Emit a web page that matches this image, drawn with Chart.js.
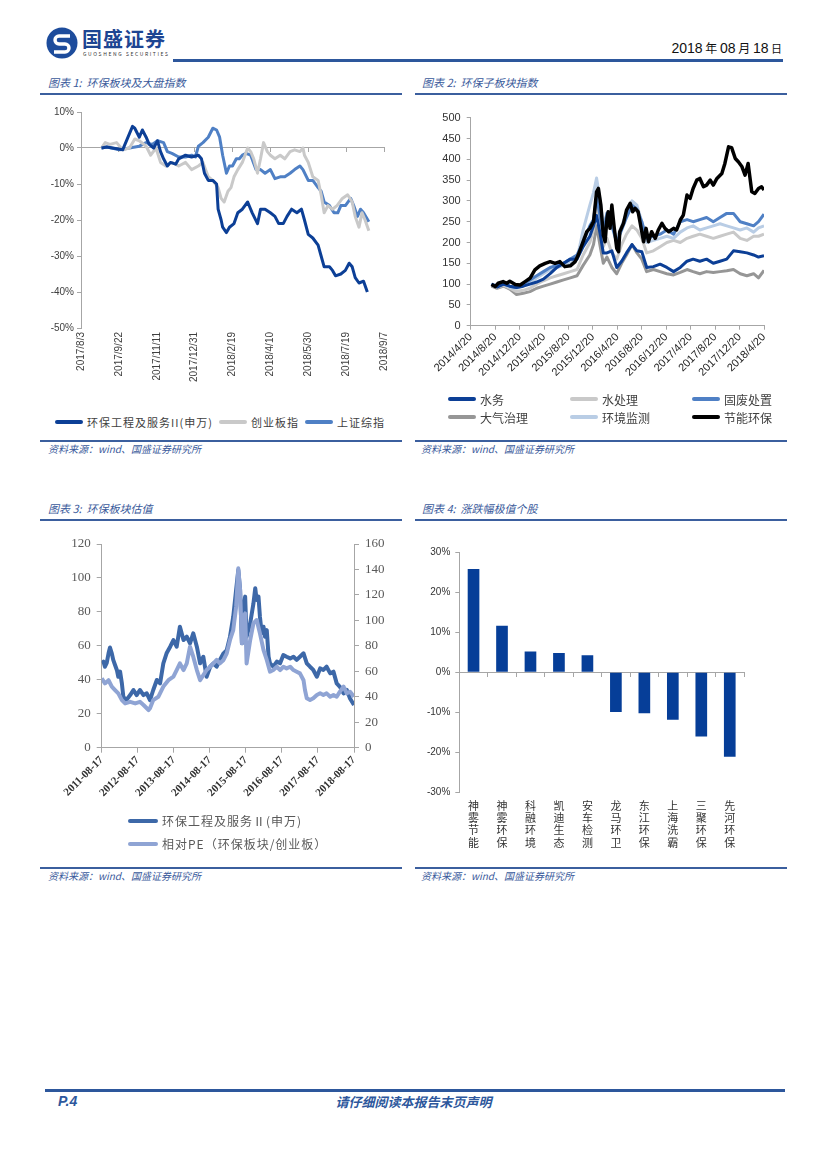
<!DOCTYPE html>
<html lang="zh">
<head>
<meta charset="UTF-8">
<title>环保板块</title>
<script src="https://cdn.jsdelivr.net/npm/chart.js@4"></script>
<style>
  body { margin: 0; background: #fff; }
  #page { position: relative; width: 827px; height: 1169px; overflow: hidden; font-family: "Noto Sans CJK SC", sans-serif; }
  .abs { position: absolute; }
  .title { font-size: 11px; line-height: 16px; font-style: italic; color: #3a5a9b; white-space: nowrap; }
  .rule { position: absolute; height: 2px; background: #3b5f9e; }
  .src { font-size: 10px; line-height: 16px; font-style: italic; color: #3a5a9b; white-space: nowrap; }
  .legend .item { display: flex; align-items: center; color: #404040; white-space: nowrap; }
  .legend .swatch { display: inline-block; height: 4px; border-radius: 2px; margin-right: 4px; }
  #leg1 { left: 40px; top: 414px; width: 360px; display: flex; justify-content: center; gap: 6px; font-size: 11px; letter-spacing: 1px; }
  #leg2 { left: 413px; top: 390px; padding-left: 35px; display: grid; grid-template-columns: 122px 122px 100px; grid-auto-rows: 18px; font-size: 12px; }
  #leg3 { left: 128px; top: 809px; font-size: 12px; letter-spacing: 1px; }
  #leg3 .item { height: 23px; color: #595959; }
</style>
</head>
<body>
<div id="page">
  <svg class="abs" style="left:46px;top:27px" width="32" height="32" viewBox="0 0 32 32">
    <circle cx="16" cy="16" r="15.5" fill="#1d4c9c"/>
    <path d="M24 9 H13 a4 4 0 0 0 0 8 H19 a4 4 0 0 1 0 8 H8" stroke="#fff" stroke-width="3.4" fill="none"/>
  </svg>
  <div class="abs" style="left:82px;top:27px;font-size:20px;font-weight:700;color:#1d4592;letter-spacing:1px;line-height:24px">国盛证券</div>
  <div class="abs" style="left:83px;top:51px;font-size:5px;color:#333;letter-spacing:1.6px;line-height:6px">GUOSHENG SECURITIES</div>
  <div class="abs" style="right:45px;top:39px;font-size:14px;line-height:18px;color:#111;font-family:'Liberation Sans','Noto Sans CJK SC'">2018<span style="font-family:'Noto Sans CJK SC';font-size:12px"> 年 </span>08<span style="font-family:'Noto Sans CJK SC';font-size:12px"> 月 </span>18<span style="font-family:'Noto Sans CJK SC';font-size:11px"> 日</span></div>
  <div class="rule" style="left:173px;top:59px;width:610px;height:3px;background:#2d579c"></div>

  <div class="abs title" style="left:48px;top:74px">图表 1:&nbsp; 环保板块及大盘指数</div>
  <div class="rule" style="left:40px;top:93px;width:362px"></div>
  <div class="abs title" style="left:422px;top:74px">图表 2:&nbsp; 环保子板块指数</div>
  <div class="rule" style="left:415px;top:93px;width:372px"></div>

  <div class="abs" style="left:40px;top:100px;width:360px;height:300px"><canvas id="c1"></canvas></div>
  <div class="abs legend" id="leg1"></div>
  <div class="abs" style="left:413px;top:105px;width:374px;height:290px"><canvas id="c2"></canvas></div>
  <div class="abs legend" id="leg2"></div>

  <div class="rule" style="left:40px;top:440px;width:362px"></div>
  <div class="abs src" style="left:48px;top:441px">资料来源：wind、国盛证券研究所</div>
  <div class="rule" style="left:415px;top:440px;width:372px"></div>
  <div class="abs src" style="left:421px;top:441px">资料来源：wind、国盛证券研究所</div>

  <div class="abs title" style="left:48px;top:500px">图表 3:&nbsp; 环保板块估值</div>
  <div class="rule" style="left:40px;top:519px;width:362px"></div>
  <div class="abs title" style="left:422px;top:500px">图表 4:&nbsp; 涨跌幅极值个股</div>
  <div class="rule" style="left:415px;top:519px;width:372px"></div>

  <div class="abs" style="left:40px;top:530px;width:365px;height:280px"><canvas id="c3"></canvas></div>
  <div class="abs legend" id="leg3"></div>
  <div class="abs" style="left:413px;top:535px;width:374px;height:320px"><canvas id="c4"></canvas></div>

  <div class="rule" style="left:40px;top:867px;width:362px"></div>
  <div class="abs src" style="left:48px;top:868px">资料来源：wind、国盛证券研究所</div>
  <div class="rule" style="left:415px;top:867px;width:372px"></div>
  <div class="abs src" style="left:421px;top:868px">资料来源：wind、国盛证券研究所</div>

  <div class="rule" style="left:45px;top:1089px;width:740px;height:3px;background:#2d579c"></div>
  <div class="abs" style="left:58px;top:1093px;font:italic 700 14px 'Liberation Sans';color:#2d579c">P.4</div>
  <div class="abs" style="left:0;width:827px;top:1092px;text-align:center;font-size:13px;font-weight:700;font-style:italic;color:#2d579c">请仔细阅读本报告末页声明</div>
</div>

<script>
// ---------- 图表1：环保板块及大盘指数（横轴：距 2017/8/3 的天数，纵轴：涨跌幅 %） ----------
const c1Ticks = ['2017/8/3', '2017/9/22', '2017/11/11', '2017/12/31', '2018/2/19', '2018/4/10', '2018/5/30', '2018/7/19', '2018/9/7'];
const envDays = [27, 34, 55, 68, 71, 77, 81, 86, 90, 96, 101, 105, 109, 114, 118, 125, 129, 138, 146, 155, 159, 163, 168, 174, 179, 181, 185, 187, 192, 196, 202, 207, 213, 220, 226, 233, 237, 243, 250, 256, 261, 267, 272, 278, 285, 291, 295, 300, 306, 313, 317, 321, 328, 332, 336, 343, 349, 354, 358, 362, 367, 373, 378];
const envVals = [0, 0.3, -0.5, 6, 5.5, 3, 5, 3, 1, 0, 2, -1, -3, -5, -4, -4.5, -3, -2, -2.5, -2, -3, -7, -9, -9, -10, -17, -20, -22, -23.5, -22, -21, -18, -17, -15, -18, -21, -17, -17, -18, -19, -21, -21, -19, -17, -18, -17, -20, -24, -25, -27, -30, -33, -33, -34, -35.5, -35, -34, -32, -33, -36, -37.5, -37, -40];
const cybDays = [27, 32, 38, 47, 55, 64, 71, 77, 86, 92, 99, 105, 112, 120, 129, 138, 146, 155, 161, 168, 174, 181, 185, 189, 194, 198, 202, 207, 213, 220, 224, 228, 233, 237, 241, 246, 250, 256, 263, 269, 276, 282, 289, 293, 295, 300, 306, 313, 317, 321, 326, 332, 338, 345, 352, 358, 362, 367, 371, 375, 380];
const cybVals = [0, 1.5, 1, 1.5, -0.5, 0, 2.5, 2, 0.5, -2, 0, -4, -5, -4, -5, -4, -6, -5, -4, -8, -9, -11, -14, -15, -12, -11, -8, -6, -4, 0, -1, -3, -7, -3, 1.5, -1, -2, -3, -2, -3, -1, -0.5, -1, 0, -2, -4, -8, -9, -13, -18, -16, -17, -16, -14, -13, -15, -19, -22, -18, -20, -23];
const shDays = [27, 34, 51, 64, 77, 86, 94, 101, 109, 114, 120, 129, 138, 146, 151, 155, 161, 168, 174, 179, 183, 187, 192, 196, 200, 205, 209, 213, 218, 224, 231, 237, 243, 250, 256, 263, 269, 276, 282, 289, 293, 300, 306, 313, 317, 321, 328, 334, 339, 343, 349, 356, 360, 365, 369, 373, 380];
const shVals = [0, 0.3, -0.5, 0, 0.5, 1.5, 1, 2, 1.5, -1, -1.5, -2.5, -2.5, -2, -2.5, 0.5, 1.5, 3, 5.5, 5, 3, -2, -7, -5, -5, -3, -3, -2, -1.5, -2, -6, -6, -7, -6, -8.5, -8, -8, -7, -6, -5, -6, -9, -9, -11, -12, -15, -16, -18, -18, -16, -16, -14, -16, -19, -17, -18, -20.5];

// ---------- 图表2：环保子板块指数（横轴：距 2014/4/20 的月数） ----------
const c2Ticks = ['2014/4/20', '2014/8/20', '2014/12/20', '2015/4/20', '2015/8/20', '2015/12/20', '2016/4/20', '2016/8/20', '2016/12/20', '2017/4/20', '2017/8/20', '2017/12/20', '2018/4/20'];
const subMonths = [3.4, 4.3, 5.4, 6.4, 7.5, 8.6, 9.7, 10.8, 11.9, 13.0, 14.1, 15.2, 16.3, 17.4, 18.4, 19.5, 20.1, 20.6, 21.2, 21.7, 22.3, 23.1, 23.9, 24.7, 25.5, 26.4, 27.2, 28.0, 28.8, 29.9, 31.0, 32.1, 33.2, 34.3, 35.4, 36.4, 37.5, 38.6, 39.7, 40.8, 41.9, 43.0, 44.1, 45.2, 46.3, 47.1, 48.0];
const waterVals = [100, 93, 100, 95, 92, 95, 100, 105, 112, 125, 140, 150, 160, 160, 190, 215, 240, 265, 220, 175, 175, 180, 140, 155, 175, 195, 180, 178, 140, 142, 148, 140, 130, 140, 155, 160, 155, 160, 150, 155, 160, 180, 178, 175, 170, 165, 168];
const treatVals = [97, 92, 97, 90, 82, 85, 90, 100, 108, 115, 120, 125, 130, 135, 170, 200, 230, 290, 240, 190, 210, 175, 160, 195, 220, 240, 230, 210, 175, 180, 190, 200, 205, 200, 210, 215, 220, 215, 210, 215, 220, 225, 210, 205, 215, 215, 220];
const wasteVals = [100, 95, 100, 95, 92, 100, 110, 120, 130, 140, 145, 150, 160, 170, 200, 240, 255, 310, 260, 220, 270, 240, 200, 230, 260, 290, 280, 250, 210, 215, 220, 230, 220, 250, 255, 250, 255, 260, 250, 260, 270, 270, 250, 245, 240, 250, 268];
const airVals = [95, 90, 95, 88, 75, 78, 82, 90, 95, 100, 105, 110, 115, 120, 145, 170, 195, 240, 190, 150, 165, 140, 125, 150, 170, 195, 175, 160, 130, 135, 130, 125, 122, 128, 135, 130, 125, 130, 128, 130, 132, 135, 125, 120, 125, 115, 133];
const monitorVals = [100, 95, 100, 92, 90, 95, 105, 115, 125, 135, 140, 145, 150, 160, 230, 290, 320, 355, 300, 240, 270, 240, 210, 240, 270, 300, 290, 250, 200, 205, 210, 215, 210, 225, 235, 240, 230, 235, 240, 245, 240, 235, 230, 235, 225, 235, 240];
const saveMonths = [3.4, 4.0, 4.5, 5.3, 5.9, 6.4, 7.3, 8.1, 8.9, 9.7, 10.5, 11.3, 12.2, 13.0, 13.8, 14.6, 15.4, 16.3, 17.1, 17.6, 18.4, 19.0, 19.5, 20.1, 20.6, 20.9, 21.3, 21.7, 22.0, 22.3, 22.5, 22.8, 23.1, 23.5, 23.9, 24.2, 24.4, 25.0, 25.5, 26.1, 26.5, 26.9, 27.4, 27.9, 28.3, 28.7, 29.1, 29.6, 30.2, 30.7, 31.3, 31.8, 32.4, 33.2, 33.7, 34.3, 34.8, 35.4, 35.9, 36.4, 37.0, 37.5, 38.1, 38.6, 39.2, 39.7, 40.3, 41.1, 41.6, 42.2, 42.7, 43.3, 43.8, 44.4, 44.9, 45.4, 46.0, 46.5, 47.1, 47.6, 48.0];
const saveVals = [99, 94, 102, 106, 102, 107, 99, 98, 106, 114, 134, 144, 150, 154, 150, 154, 142, 144, 154, 170, 202, 226, 234, 250, 322, 330, 290, 218, 202, 258, 274, 234, 290, 234, 186, 178, 226, 246, 278, 294, 274, 282, 274, 234, 202, 234, 202, 226, 210, 230, 246, 234, 226, 234, 230, 254, 266, 314, 306, 330, 350, 354, 334, 338, 350, 338, 354, 366, 390, 430, 428, 402, 394, 382, 362, 390, 322, 318, 330, 334, 326];

// ---------- 图表3：环保板块估值（横轴：距 2011-08-17 的年数） ----------
const c3Ticks = ['2011-08-17', '2012-08-17', '2013-08-17', '2014-08-17', '2015-08-17', '2016-08-17', '2017-08-17', '2018-08-17'];
const peYears = [0.00, 0.05, 0.09, 0.14, 0.19, 0.23, 0.28, 0.32, 0.37, 0.42, 0.46, 0.51, 0.56, 0.60, 0.68, 0.79, 0.88, 0.97, 1.06, 1.16, 1.25, 1.34, 1.43, 1.53, 1.62, 1.71, 1.80, 1.90, 1.99, 2.08, 2.17, 2.27, 2.36, 2.45, 2.54, 2.64, 2.73, 2.82, 2.91, 3.01, 3.10, 3.19, 3.28, 3.38, 3.47, 3.56, 3.65, 3.73, 3.79, 3.84, 3.89, 3.93, 3.98, 4.02, 4.12, 4.21, 4.26, 4.30, 4.35, 4.39, 4.44, 4.49, 4.53, 4.58, 4.63, 4.67, 4.76, 4.86, 4.95, 5.04, 5.13, 5.23, 5.32, 5.41, 5.50, 5.60, 5.69, 5.78, 5.87, 5.97, 6.06, 6.15, 6.24, 6.34, 6.43, 6.52, 6.61, 6.71, 6.80, 6.89, 7.00];
const peVals = [49.7, 50.7, 47.7, 50, 55.6, 59, 55.6, 51.7, 48.7, 45.8, 41.8, 44.8, 37.9, 30, 28, 31, 34, 31, 34, 31, 32, 28, 34, 39.9, 37.9, 49.7, 55.6, 59.5, 63.4, 59.5, 71.3, 63.4, 65.4, 61.5, 67.4, 59.5, 49.7, 53.6, 41.8, 47.7, 49.7, 47.7, 51.7, 55.6, 57.5, 65.4, 77.2, 93, 104.7, 93, 61.5, 83, 89, 65.4, 73.3, 85, 93.9, 87, 89, 77.2, 67.4, 71.3, 65.4, 69.3, 53.6, 49.7, 47.7, 50.7, 49.7, 54.6, 53.6, 52.6, 53.6, 51.7, 53.6, 55.6, 49.7, 47.7, 45.8, 41.8, 46.7, 45.8, 47.7, 43.8, 44.8, 37.9, 35.9, 32, 34, 29, 25.1];
const relYears = [0.00, 0.09, 0.19, 0.28, 0.37, 0.46, 0.56, 0.65, 0.79, 0.93, 1.06, 1.16, 1.30, 1.34, 1.43, 1.57, 1.71, 1.85, 1.99, 2.08, 2.17, 2.27, 2.36, 2.45, 2.54, 2.64, 2.73, 2.82, 2.91, 3.01, 3.10, 3.19, 3.28, 3.38, 3.47, 3.56, 3.65, 3.73, 3.79, 3.84, 3.89, 3.93, 3.98, 4.02, 4.12, 4.21, 4.30, 4.39, 4.49, 4.58, 4.67, 4.76, 4.86, 4.95, 5.04, 5.13, 5.23, 5.32, 5.41, 5.50, 5.60, 5.64, 5.69, 5.78, 5.87, 5.97, 6.06, 6.15, 6.24, 6.34, 6.43, 6.52, 6.61, 6.71, 6.80, 6.89, 7.00];
const relVals = [54.5, 50.5, 53, 48, 45.3, 42.7, 37.4, 34.8, 36, 34.8, 36, 33.5, 29.6, 31, 37.4, 40, 48, 53, 55.8, 61, 66.2, 61, 66.2, 79.3, 71.5, 61, 53, 57, 61, 63.6, 66.2, 68.9, 66.2, 68.9, 74.1, 84.6, 92.4, 110.8, 140.9, 123.9, 82, 103, 105.5, 66.2, 84.6, 97.7, 100.3, 89.8, 76.7, 68.9, 59.7, 61, 63.6, 61, 63.6, 62.3, 63.6, 61, 59.7, 58.4, 53, 45.3, 38.8, 37.4, 38.8, 41.4, 42.7, 41.4, 42.7, 40, 41.4, 40, 44, 48, 42.7, 44, 40];

// ---------- 图表4：涨跌幅极值个股（%） ----------
const stockNames = ['神雾节能', '神雾环保', '科融环境', '凯迪生态', '安车检测', '龙马环卫', '东江环保', '上海洗霸', '三聚环保', '先河环保'];
const stockChg = [25.8, 11.6, 5.2, 4.8, 4.2, -10.0, -10.3, -11.9, -16.1, -21.2];

Chart.defaults.font.family = "'Liberation Sans', 'Noto Sans CJK SC', sans-serif";
Chart.defaults.animation = false;
Chart.defaults.plugins.legend.display = false;
Chart.defaults.plugins.tooltip.enabled = false;

const AXIS = '#a6a6a6';
const pts = (xs, ys) => xs.map((x, i) => ({ x: x, y: ys[i] }));

function line(label, data, color, width, extra) {
  return Object.assign({
    label: label, data: data, borderColor: color, backgroundColor: color,
    borderWidth: width, pointRadius: 0, tension: 0, borderJoinStyle: 'round'
  }, extra || {});
}

// legend drawn as html, built from the chart's datasets
const htmlLegend = {
  id: 'htmlLegend',
  afterUpdate(chart, args, opts) {
    const box = document.getElementById(opts.containerID);
    if (!box) return;
    box.innerHTML = '';
    chart.data.datasets.forEach(ds => {
      const item = document.createElement('div');
      item.className = 'item';
      const sw = document.createElement('span');
      sw.className = 'swatch';
      sw.style.background = ds.borderColor;
      sw.style.width = opts.swatch + 'px';
      const tx = document.createElement('span');
      tx.textContent = ds.label;
      item.append(sw, tx);
      box.appendChild(item);
    });
  }
};

// ---- chart 1 ----
new Chart(document.getElementById('c1'), {
  type: 'line',
  data: {
    datasets: [
      line('环保工程及服务II(申万)', pts(envDays, envVals), '#0c3f96', 3),
      line('创业板指', pts(cybDays, cybVals), '#c9c9c9', 3),
      line('上证综指', pts(shDays, shVals), '#4f80c5', 3)
    ]
  },
  options: {
    responsive: true, maintainAspectRatio: false,
    layout: { padding: { top: 12, right: 11, left: 0, bottom: 0 } },
    plugins: { htmlLegend: { containerID: 'leg1', swatch: 28 } },
    scales: {
      x: {
        type: 'linear', min: 0, max: 400,
        ticks: { stepSize: 50, autoSkip: false, maxRotation: 90, minRotation: 90, padding: 4,
          color: '#404040', font: { size: 10 }, callback: (v, i) => c1Ticks[i] },
        grid: { display: false, drawTicks: false }, border: { display: false },
        afterFit: s => { s.height = 72; }
      },
      xZero: {
        axis: 'x', type: 'linear', position: { y: 0 }, min: 0, max: 400,
        ticks: { stepSize: 50, display: false },
        grid: { drawOnChartArea: false, tickLength: 4, color: AXIS },
        border: { color: AXIS }
      },
      y: {
        min: -50, max: 10,
        ticks: { stepSize: 10, padding: 3, color: '#404040', font: { size: 10 }, callback: v => v + '%' },
        grid: { drawOnChartArea: false, tickLength: 4, color: AXIS }, border: { color: AXIS },
        afterFit: s => { s.width = 41; }
      }
    }
  },
  plugins: [htmlLegend]
});

// ---- chart 2 ----
new Chart(document.getElementById('c2'), {
  type: 'line',
  data: {
    datasets: [
      line('水务', pts(subMonths, waterVals), '#0c3f96', 3, { order: 1 }),
      line('水处理', pts(subMonths, treatVals), '#c9c9c9', 3, { order: 4 }),
      line('固废处置', pts(subMonths, wasteVals), '#4f80c5', 3, { order: 2 }),
      line('大气治理', pts(subMonths, airVals), '#969696', 3, { order: 5 }),
      line('环境监测', pts(subMonths, monitorVals), '#b9cde5', 3, { order: 3 }),
      line('节能环保', pts(saveMonths, saveVals), '#000000', 3.5, { order: 0 })
    ]
  },
  options: {
    responsive: true, maintainAspectRatio: false,
    layout: { padding: { top: 12.7, right: 23, left: 0, bottom: 0 } },
    plugins: { htmlLegend: { containerID: 'leg2', swatch: 28 } },
    scales: {
      x: {
        type: 'linear', min: 0, max: 48,
        ticks: { stepSize: 4, autoSkip: false, maxRotation: 45, minRotation: 45, padding: 1,
          color: '#222', font: { size: 11 }, callback: (v, i) => c2Ticks[i] },
        grid: { drawOnChartArea: false, tickLength: 4, color: AXIS }, border: { color: AXIS },
        afterFit: s => { s.height = 69.3; }
      },
      y: {
        min: 0, max: 500,
        ticks: { stepSize: 50, padding: 6, color: '#333', font: { size: 11 } },
        grid: { drawOnChartArea: false, tickLength: 4, color: AXIS }, border: { color: AXIS },
        afterFit: s => { s.width = 57.7; }
      }
    }
  },
  plugins: [htmlLegend]
});

// ---- chart 3 ----
const serif = "'Liberation Serif', serif";
new Chart(document.getElementById('c3'), {
  type: 'line',
  data: {
    datasets: [
      line('环保工程及服务Ⅱ(申万)', pts(peYears, peVals), '#3d68a8', 4, { yAxisID: 'y', order: 1 }),
      line('相对PE（环保板块/创业板）', pts(relYears, relVals), '#8fa4d4', 4, { yAxisID: 'y1', order: 0 })
    ]
  },
  options: {
    responsive: true, maintainAspectRatio: false,
    layout: { padding: { top: 14, right: 0, left: 0, bottom: 0 } },
    plugins: { htmlLegend: { containerID: 'leg3', swatch: 30 } },
    scales: {
      x: {
        type: 'linear', min: 0, max: 7,
        ticks: { stepSize: 1, autoSkip: false, maxRotation: 45, minRotation: 45, padding: 1,
          color: '#333', font: { family: serif, size: 11, weight: 'bold' }, callback: (v, i) => c3Ticks[i] },
        grid: { drawOnChartArea: false, tickLength: 5, color: AXIS }, border: { color: AXIS },
        afterFit: s => { s.height = 62.3; }
      },
      y: {
        position: 'left', min: 0, max: 120,
        ticks: { stepSize: 20, padding: 6, color: '#595959', font: { family: serif, size: 13 } },
        grid: { drawOnChartArea: false, tickLength: 5, color: AXIS }, border: { color: AXIS },
        afterFit: s => { s.width = 61.7; }
      },
      y1: {
        position: 'right', min: 0, max: 160,
        ticks: { stepSize: 20, padding: 6, color: '#595959', font: { family: serif, size: 13 } },
        grid: { drawOnChartArea: false, tickLength: 5, color: AXIS }, border: { color: AXIS },
        afterFit: s => { s.width = 51; }
      }
    }
  },
  plugins: [htmlLegend]
});

// ---- chart 4 ----
new Chart(document.getElementById('c4'), {
  type: 'bar',
  data: {
    labels: stockNames.map(n => n.split('')),
    datasets: [{ label: '涨跌幅', data: stockChg, backgroundColor: '#063e98',
      categoryPercentage: 1, barPercentage: 0.41 }]
  },
  options: {
    responsive: true, maintainAspectRatio: false,
    layout: { padding: { top: 17.3, right: 43, left: 0, bottom: 0 } },
    scales: {
      x: {
        ticks: { padding: 8, color: '#333', font: { family: "'Noto Sans CJK SC'", size: 11, lineHeight: 1.1 }, maxRotation: 0 },
        grid: { display: false, drawTicks: false }, border: { display: false },
        afterFit: s => { s.height = 63; }
      },
      xZero: {
        axis: 'x', type: 'category', position: { y: 0 }, offset: true,
        ticks: { display: false },
        grid: { offset: true, drawOnChartArea: false, tickLength: 4, color: AXIS },
        border: { color: AXIS }
      },
      y: {
        min: -30, max: 30,
        ticks: { stepSize: 10, padding: 5, color: '#333', font: { size: 10 }, callback: v => v + '%' },
        grid: { drawOnChartArea: false, tickLength: 4, color: AXIS }, border: { color: AXIS },
        afterFit: s => { s.width = 46.3; }
      }
    }
  }
});
</script>
</body>
</html>
